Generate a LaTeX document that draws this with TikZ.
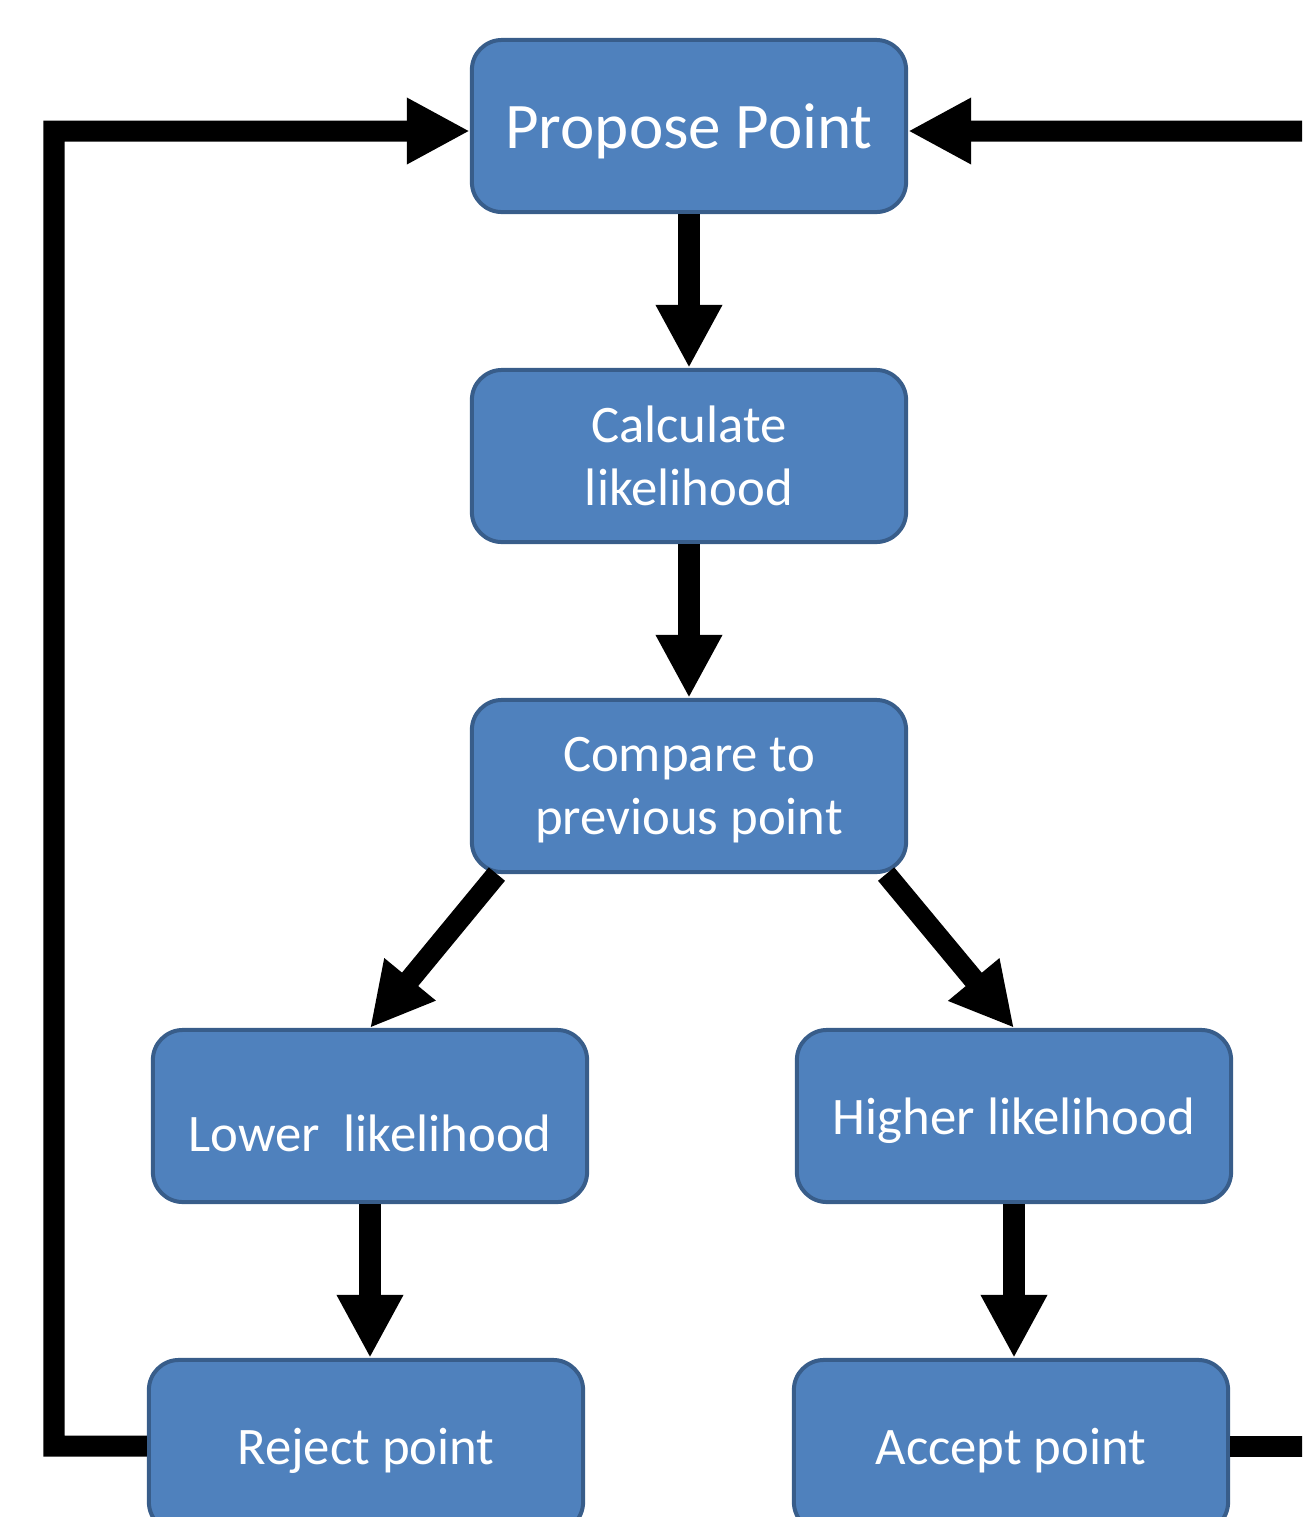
\documentclass[tikz,border=0pt]{standalone}
\usepackage{fontspec}
\setmainfont{Carlito}
\usetikzlibrary{arrows.meta}

\definecolor{boxfill}{HTML}{4F81BD}
\definecolor{boxline}{HTML}{385D8A}

\tikzset{
  stepbox/.style={draw=boxline, fill=boxfill, line width=0.04cm, rounded corners=0.3cm,
    minimum width=4.34cm, minimum height=1.72cm, text=white, align=center, text depth=0pt,
    font=\fontsize{15pt}{18pt}\selectfont},
  flow/.style={line width=0.21cm, -{Triangle[length=0.63cm, width=0.62cm]}}
}

\begin{document}
\begin{tikzpicture}[x=0.01cm, y=-0.01cm]
\useasboundingbox (0,0) rectangle (1302,1517);
\clip (0,0) rectangle (1302,1517);

\node[stepbox, font=\fontsize{18.5pt}{22pt}\selectfont] (11) at (689,126) {Propose Point};
\node[stepbox] (21) at (689,456) {Calculate\\likelihood};
\node[stepbox] (31) at (689,786) {Compare to\\previous point};
\node[stepbox, text height=0.7cm] (41) at (370,1116) {Lower\ \ likelihood};
\node[stepbox] (42) at (1014,1116) {Higher likelihood};
\node[stepbox] (51) at (366,1446) {Reject point};
\node[stepbox] (52) at (1011,1446) {Accept point};

\coordinate (r1) at (1400,1446);
\coordinate (r2) at (1400,131);

\draw[flow] (11) -- (21);
\draw[flow] (21) -- (31);
\draw[flow] ([xshift=0.27cm]31.south west) -- (41.north);
\draw[flow] ([xshift=-0.22cm]31.south east) -- (42.north);
\draw[flow] (41.south) -- (41.south |- 51.north);
\draw[flow] (42.south) -- (42.south |- 52.north);

% loop back from reject
\draw[flow] (51.west) -| (54,131) -- ([yshift=-0.05cm]11.west);
% loop back from accept
\draw[line width=0.21cm] (52.east) -- (r1);
\draw[flow] (r2) -- ([yshift=-0.05cm]11.east);
\end{tikzpicture}
\end{document}
